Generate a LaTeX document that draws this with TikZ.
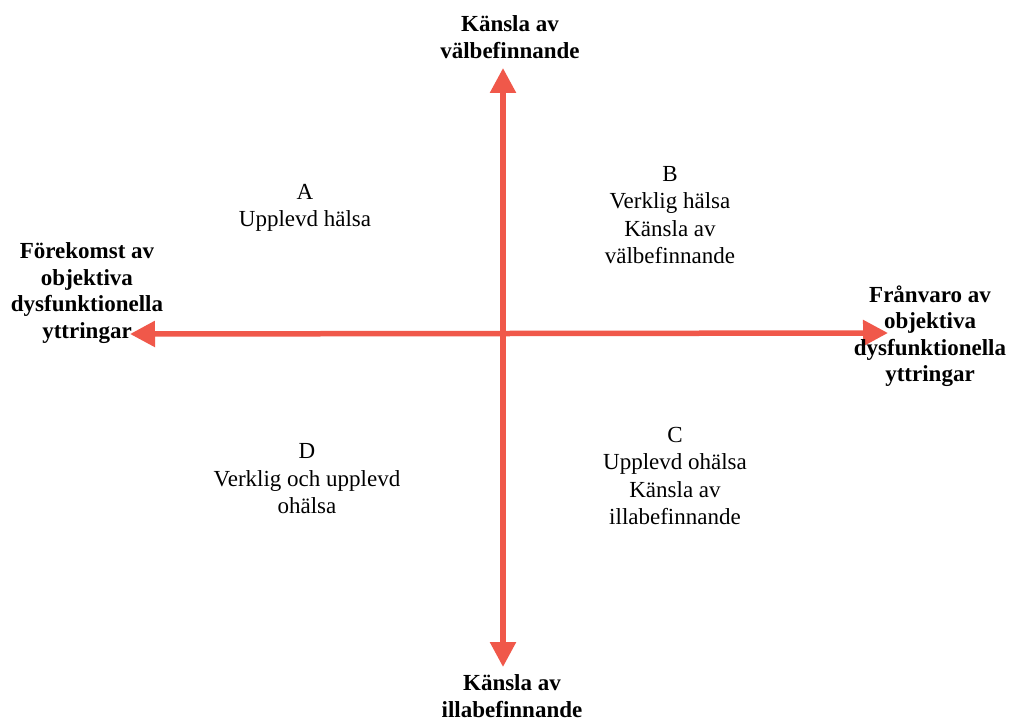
\documentclass[tikz,border=0pt]{standalone}
\usepackage{fontspec}
\setmainfont{Liberation Serif}
\usetikzlibrary{arrows.meta}
\definecolor{axisred}{RGB}{240,88,74}
\begin{document}
\begin{tikzpicture}[x=1pt,y=-1pt,
  axis/.style={draw=axisred,line width=5.5pt,{Triangle[length=25pt,width=25pt]}-{Triangle[length=25pt,width=25pt]}},
  lbl/.style={align=center,inner sep=0pt,font=\fontsize{23}{26.5}\selectfont\bfseries},
  quad/.style={align=center,inner sep=0pt,font=\fontsize{23}{27.5}\selectfont}]
\useasboundingbox (0,0) rectangle (1009,722);
\fill[white] (0,0) rectangle (1009,722);
\coordinate (top) at (503,68);
\coordinate (bot) at (503,667);
\coordinate (lft) at (130,334);
\coordinate (rgt) at (888,333);
\draw[axis] (lft) -- (rgt);
\draw[axis] (top) -- (bot);
\node[lbl] (ltop) at (510,37) {Känsla av\\välbefinnande};
\node[lbl] (lbot) at (512,696) {Känsla av\\illabefinnande};
\node[lbl] (lleft) at (87,293) {Förekomst av\\objektiva\\dysfunktionella\\yttringar};
\node[lbl] (lright) at (930,336) {Frånvaro av\\objektiva\\dysfunktionella\\yttringar};
\node[quad] (qa) at (305,208) {A\\Upplevd hälsa};
\node[quad] (qb) at (670,215) {B\\Verklig hälsa\\Känsla av\\välbefinnande};
\node[quad] (qc) at (675,476) {C\\Upplevd ohälsa\\Känsla av\\illabefinnande};
\node[quad] (qd) at (307,479) {D\\Verklig och upplevd\\ohälsa};
\end{tikzpicture}
\end{document}
